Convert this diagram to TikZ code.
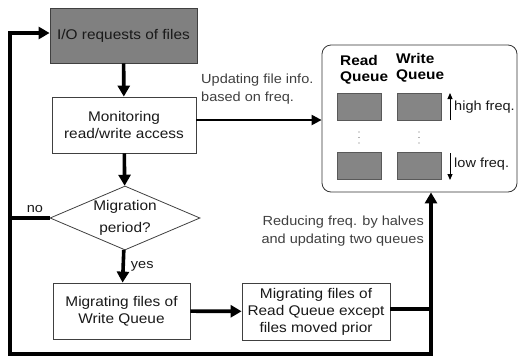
\documentclass[tikz,border=0pt]{standalone}
\usepackage{fontspec}
\setmainfont{Liberation Sans}
\newfontfamily\widefont{Liberation Sans}[FakeStretch=1.1]
\begin{document}
\usetikzlibrary{arrows.meta,shapes.geometric}
\begin{tikzpicture}[x=1pt,y=-1pt,
  boxtxt/.style={font=\widefont\fontsize{14}{17}\selectfont, text=black!90},
  procbox/.style={draw=black!75, line width=0.8pt, fill=white, align=center, inner sep=0pt, boxtxt},
  darkbox/.style={procbox, fill=black!50},
  decbox/.style={procbox, shape=diamond, aspect=2.34, font=\widefont\fontsize{14}{22}\selectfont},
  qbox/.style={draw=black!80, line width=0.8pt, rounded corners=9pt, inner sep=0pt},
  qcell/.style={fill=black!48, draw=black!65, line width=0.5pt, inner sep=0pt, minimum width=44pt, minimum height=27pt},
  qhead/.style={font=\widefont\bfseries\fontsize{14}{16.5}\selectfont, align=left, inner sep=0pt, anchor=west},
  lbl/.style={font=\widefont\fontsize{13.2}{18}\selectfont, text=black!75, inner sep=0pt},
  flow/.style={line width=3.6pt, -{Triangle[length=11pt,width=12pt]}},
  flowline/.style={line width=3.6pt},
  infoflow/.style={line width=2.2pt, -{Triangle[length=10pt,width=10pt]}},
  freqarrow/.style={line width=1pt, -{Triangle[length=6pt,width=5pt]}}
]
\useasboundingbox (0,0) rectangle (519,357);

% main flow boxes
\node[darkbox, minimum width=147pt, minimum height=55pt] (io) at (123.5,35.5) {I/O requests of files};
\node[procbox, minimum width=144pt, minimum height=56pt] (mon) at (124,125) {Monitoring\\read/write access};
\node[decbox, minimum width=150pt, minimum height=64pt] (dia) at (125,218) {Migration\\period?};
\node[procbox, minimum width=137pt, minimum height=56pt] (wq) at (121.5,311) {Migrating files of\\Write Queue};
\node[procbox, minimum width=148pt, minimum height=57pt] (rq) at (316,311.5) {Migrating files of\\Read Queue except\\files moved prior};

% queue panel
\node[qbox, minimum width=195pt, minimum height=147pt] (qb) at (419.5,118.5) {};
\node[qhead] (rh) at (340,70) {Read\\Queue};
\node[qhead] (wh) at (396,68) {Write\\Queue};
\node[qcell] (r1) at (359,106.5) {};
\node[qcell] (w1) at (419,106.5) {};
\node[qcell] (r2) at (359,165.5) {};
\node[qcell] (w2) at (419,165.5) {};
\foreach \xx in {359,419}{
  \foreach \yy in {132,137.5,143}{
    \fill[black!60] (\xx,\yy) circle (0.7pt);
  }
}
\coordinate (hu1) at (450,120);
\coordinate (hu2) at (450,93);
\coordinate (ld1) at (450,153);
\coordinate (ld2) at (450,180);
\draw[freqarrow] (hu1) -- (hu2);
\draw[freqarrow] (ld1) -- (ld2);
\node[lbl, anchor=west, text=black!90] (hf) at (454,107) {high freq.};
\node[lbl, anchor=west, text=black!90] (lf) at (454,164) {low freq.};

% connectors
\draw[flow] (io) -- (mon);
\draw[flow] (mon) -- (dia);
\draw[flow] (dia) -- node[lbl, right=6pt, text=black!90] (yes) {yes} (wq);
\draw[flow] (wq) -- (rq);

\coordinate (m1) at (mon.east |- 0,120);
\draw[infoflow] (m1) -- (m1 -| qb.west);
\node[lbl, anchor=west, align=left] (upd) at (201,89) {Updating file info.\\based on freq.};

\coordinate (j1) at (431,309);
\coordinate (j2) at (431,354);
\coordinate (j3) at (10,354);
\coordinate (j4) at (10,33);
\draw[flowline] (rq.east |- j1) -- (j1);
\draw[flow] (j1) -- (j1 |- qb.south);
\draw[flow] (j1) -- (j2) -- (j3) -- (j4) -- (j4 -| io.west);
\draw[flowline] (dia.west) -- (dia.west -| j3);
\node[lbl, text=black!90] (no) at (35,209) {no};
\node[lbl, anchor=east, align=right] (red) at (424,231) {Reducing freq. by halves\\and updating two queues};
\end{tikzpicture}
\end{document}
